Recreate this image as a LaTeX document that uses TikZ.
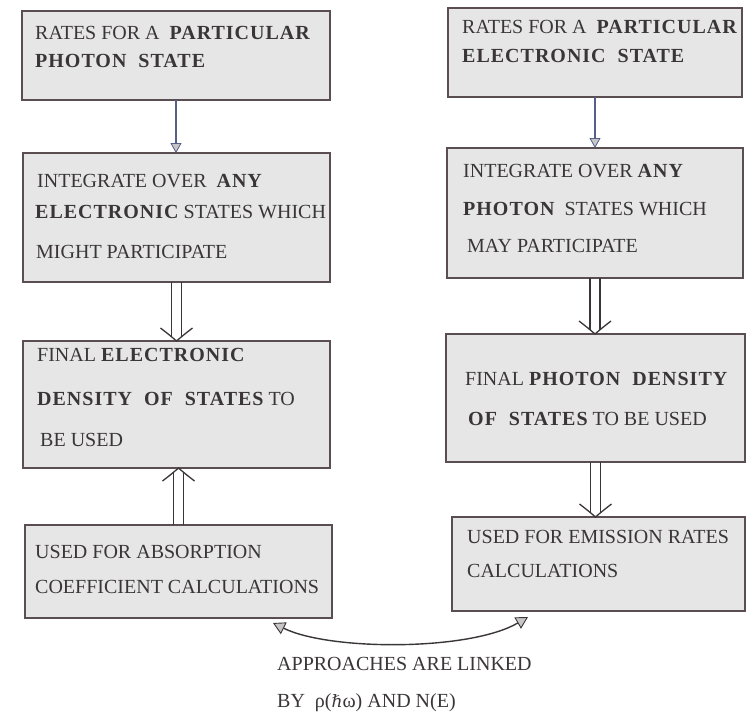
\documentclass[tikz,border=0pt]{standalone}
\usepackage{fontspec}
\setmainfont{Liberation Serif}
\newfontfamily\symfont{DejaVu Serif}
\usetikzlibrary{arrows.meta,calc}
\definecolor{boxfill}{HTML}{E6E6E6}
\definecolor{boxline}{HTML}{5A4E50}
\definecolor{txtcol}{HTML}{3A3638}
\definecolor{arrline}{HTML}{55608A}
\newcommand{\bw}[1]{{\bfseries\addfontfeatures{LetterSpace=5}#1}}
% double arrow: #1 start, #2 tip coordinate, #3 = -1 for downward tip, 1 for upward tip
\newcommand{\darr}[3]{%
  \draw[dl] ([xshift=-5pt]#1) -- ([xshift=-5pt]#2);
  \draw[dl] ([xshift=5pt]#1) -- ([xshift=5pt]#2);
  \draw[vh] ($(#2)+(-16,#3*13)$) .. controls ($(#2)+(-7,#3*6)$) .. (#2)
            .. controls ($(#2)+(7,#3*6)$) .. ($(#2)+(16,#3*13)$);}
\begin{document}
\begin{tikzpicture}[x=1pt,y=-1pt,
  box/.style={draw=boxline, line width=1.5pt, fill=boxfill, anchor=north west, inner sep=0pt, outer sep=0pt},
  txt/.style={anchor=base west, inner sep=0pt, text=txtcol, font=\fontsize{20}{24}\selectfont},
  sarrow/.style={draw=arrline, line width=1.3pt, -{Triangle[width=11pt,length=10pt,fill=gray!45,line width=0.8pt]}},
  dl/.style={draw=txtcol, line width=1.3pt, shorten >=4pt},
  vh/.style={draw=txtcol, line width=1.3pt, line join=miter},
  carrow/.style={draw=txtcol, line width=1.4pt, {Triangle[width=13pt,length=12pt,fill=gray!45,line width=0.9pt]}-{Triangle[width=13pt,length=12pt,fill=gray!45,line width=0.9pt]}}
]
\useasboundingbox[fill=white] (0,0) rectangle (748,716);
% boxes
\node[box, minimum width=308pt, minimum height=89pt]  (b1) at (22,11) {};
\node[box, minimum width=294pt, minimum height=89pt]  (b2) at (448,8) {};
\node[box, minimum width=307pt, minimum height=129pt] (b3) at (23,153) {};
\node[box, minimum width=296pt, minimum height=130pt] (b4) at (447,148) {};
\node[box, minimum width=307pt, minimum height=127pt] (b5) at (23,341) {};
\node[box, minimum width=299pt, minimum height=128pt] (b6) at (446,334) {};
\node[box, minimum width=307pt, minimum height=93pt]  (b7) at (25,525) {};
\node[box, minimum width=293pt, minimum height=94pt]  (b8) at (452,517) {};
% texts
\node[txt] (t1a) at (35,39) {RATES FOR A\ \ \bw{PARTICULAR}};
\node[txt] (t1b) at (35,67) {\bw{PHOTON\ \ STATE}};
\node[txt] (t2a) at (462,33) {RATES FOR A\ \ \bw{PARTICULAR}};
\node[txt] (t2b) at (462,62) {\bw{ELECTRONIC\ \ STATE}};
\node[txt] (t3a) at (37,187) {INTEGRATE OVER\ \ \bw{ANY}};
\node[txt] (t3b) at (35,218) {\bw{ELECTRONIC} STATES WHICH};
\node[txt] (t3c) at (36,258) {MIGHT PARTICIPATE};
\node[txt] (t4a) at (463,177) {INTEGRATE OVER \bw{ANY}};
\node[txt] (t4b) at (463,215) {\bw{PHOTON}\ \ STATES WHICH};
\node[txt] (t4c) at (467,252) {MAY PARTICIPATE};
\node[txt] (t5a) at (37,361) {FINAL \bw{ELECTRONIC}};
\node[txt] (t5b) at (37,405) {\bw{DENSITY\ \ OF\ \ STATES} TO};
\node[txt] (t5c) at (40,446) {BE USED};
\node[txt] (t6a) at (465,385) {FINAL \bw{PHOTON\ \ DENSITY}};
\node[txt] (t6b) at (468,425) {\bw{OF\ \ STATES} TO BE USED};
\node[txt] (t7a) at (35,558) {USED FOR ABSORPTION};
\node[txt] (t7b) at (35,593) {COEFFICIENT CALCULATIONS};
\node[txt] (t8a) at (467,543) {USED FOR EMISSION RATES};
\node[txt] (t8b) at (467,577) {CALCULATIONS};
\node[txt] (l1) at (277,670) {APPROACHES ARE LINKED};
\node[txt] (l2) at (277,707) {BY\ \ ρ({\symfont\fontsize{17}{20}\selectfont ℏ}ω)\ AND N(E)};
% connectors
\draw[sarrow] (b1.south) -- (b1.south |- b3.north);
\draw[sarrow] (b2.south) -- (b2.south |- b4.north);
\coordinate (e35) at (b3.south |- b5.north);
\coordinate (e46) at (b4.south |- b6.north);
\coordinate (e68) at (b6.south |- b8.north);
\coordinate (e75) at (b7.north |- b5.south);
\darr{b3.south}{e35}{-1}
\darr{b4.south}{e46}{-1}
\darr{b6.south}{e68}{-1}
\darr{b7.north}{e75}{1}
\coordinate (c1) at (273,623);
\coordinate (c2) at (528,617);
\draw[carrow] (c1) .. controls (330,651) and (470,651) .. (c2);
\end{tikzpicture}
\end{document}
